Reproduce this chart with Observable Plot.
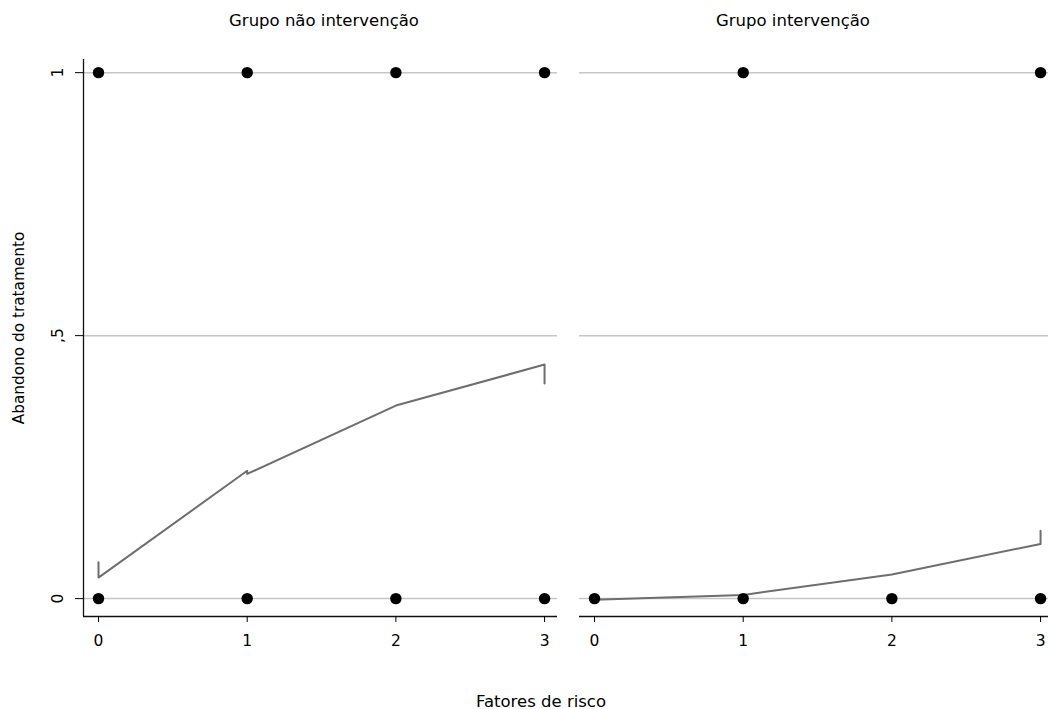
<!DOCTYPE html>
<html>
<head>
<meta charset="utf-8">
<script src="https://cdn.jsdelivr.net/npm/d3@7"></script>
<script src="https://cdn.jsdelivr.net/npm/@observablehq/plot@0.6"></script>
<style>
  html, body { margin: 0; padding: 0; background: white; overflow: hidden; }
  #wrap { position: relative; width: 1048px; height: 709px; }
  #wrap svg { position: absolute; left: 0; top: 0; }
</style>
</head>
<body>
<div id="wrap"></div>
<script>
// ---- data ----
const panelTitles = ["Grupo não intervenção", "Grupo intervenção"];
const yTitle = "Abandono do tratamento";
const xTitle = "Fatores de risco";
const xTicks = [0, 1, 2, 3];
const yTicks = [0, 0.5, 1];
const yTickLabels = ["0", ",5", "1"];
const xDomain = [-0.101, 3.087];
const yDomain = [-0.034, 1.025];

// observed outcomes (risk factors, abandonment 0/1)
const obsNoIntX = [0, 1, 2, 3, 0, 1, 2, 3];
const obsNoIntY = [1, 1, 1, 1, 0, 0, 0, 0];
const obsIntX = [1, 3, 0, 1, 2, 3];
const obsIntY = [1, 1, 0, 0, 0, 0];

// fitted (predicted) probability lines
const fitNoIntX = [0, 0, 1, 1, 2, 3, 3];
const fitNoIntY = [0.069, 0.040, 0.243, 0.237, 0.367, 0.445, 0.409];
const fitIntX = [0, 1, 2, 3, 3];
const fitIntY = [-0.002, 0.007, 0.046, 0.104, 0.129];

const zip = (xs, ys) => xs.map((x, i) => ({x, y: ys[i]}));

const W = 1048, H = 709;
const font = "DejaVu Sans";
const gridColor = "#c6c6c6";
const lineColor = "#6e6e6e";

function panel({obs, fit, left, right, xRange, showY}) {
  const marks = [
    Plot.ruleY(yTicks, {stroke: gridColor, strokeWidth: 1.5}),
    Plot.ruleY([yDomain[0]], {stroke: "#111", strokeWidth: 1.3}),
    Plot.line(fit, {x: "x", y: "y", stroke: lineColor, strokeWidth: 2}),
    Plot.dot(obs, {x: "x", y: "y", r: 5.7, fill: "black", stroke: "none"}),
    Plot.axisX({ticks: xTicks, tickSize: 6, tickPadding: 12, tickFormat: d => String(d), fontSize: 15.5, label: null})
  ];
  if (showY) {
    marks.push(
      Plot.ruleX([xDomain[0]], {stroke: "#111", strokeWidth: 1.3}),
      Plot.axisY({ticks: yTicks, tickSize: 8, tickFormat: () => "", label: null}),
      Plot.text(yTicks, {y: d => d, text: (d, i) => yTickLabels[i], frameAnchor: "left", dx: -21,
        rotate: -90, textAnchor: "middle", lineAnchor: "bottom", fontSize: 15.5, fill: "black"})
    );
  }
  return Plot.plot({
    width: W, height: H,
    marginTop: 59, marginBottom: H - 616,
    marginLeft: left, marginRight: right,
    x: {domain: xDomain, range: xRange, axis: null},
    y: {domain: yDomain, axis: null},
    style: {background: "transparent", fontFamily: font, color: "black", overflow: "hidden"},
    marks
  });
}

const wrap = document.getElementById("wrap");
wrap.appendChild(panel({obs: zip(obsNoIntX, obsNoIntY), fit: zip(fitNoIntX, fitNoIntY),
  left: 83, right: W - 557, xRange: [83, 557], showY: true}));
wrap.appendChild(panel({obs: zip(obsIntX, obsIntY), fit: zip(fitIntX, fitIntY),
  left: 579, right: 0, xRange: [579, 1053], showY: false}));

// titles overlay
const svg = d3.create("svg").attr("width", W).attr("height", H)
  .style("font-family", font).style("overflow", "visible");
svg.append("text").attr("x", 324).attr("y", 26).attr("text-anchor", "middle")
  .attr("font-size", 16.5).text(panelTitles[0]);
svg.append("text").attr("x", 793).attr("y", 26).attr("text-anchor", "middle")
  .attr("font-size", 16.5).text(panelTitles[1]);
svg.append("text").attr("x", 541).attr("y", 707).attr("text-anchor", "middle")
  .attr("font-size", 16.5).text(xTitle);
svg.append("text").attr("transform", "translate(24,328) rotate(-90)").attr("text-anchor", "middle")
  .attr("font-size", 15.3).text(yTitle);
wrap.appendChild(svg.node());
</script>
</body>
</html>
